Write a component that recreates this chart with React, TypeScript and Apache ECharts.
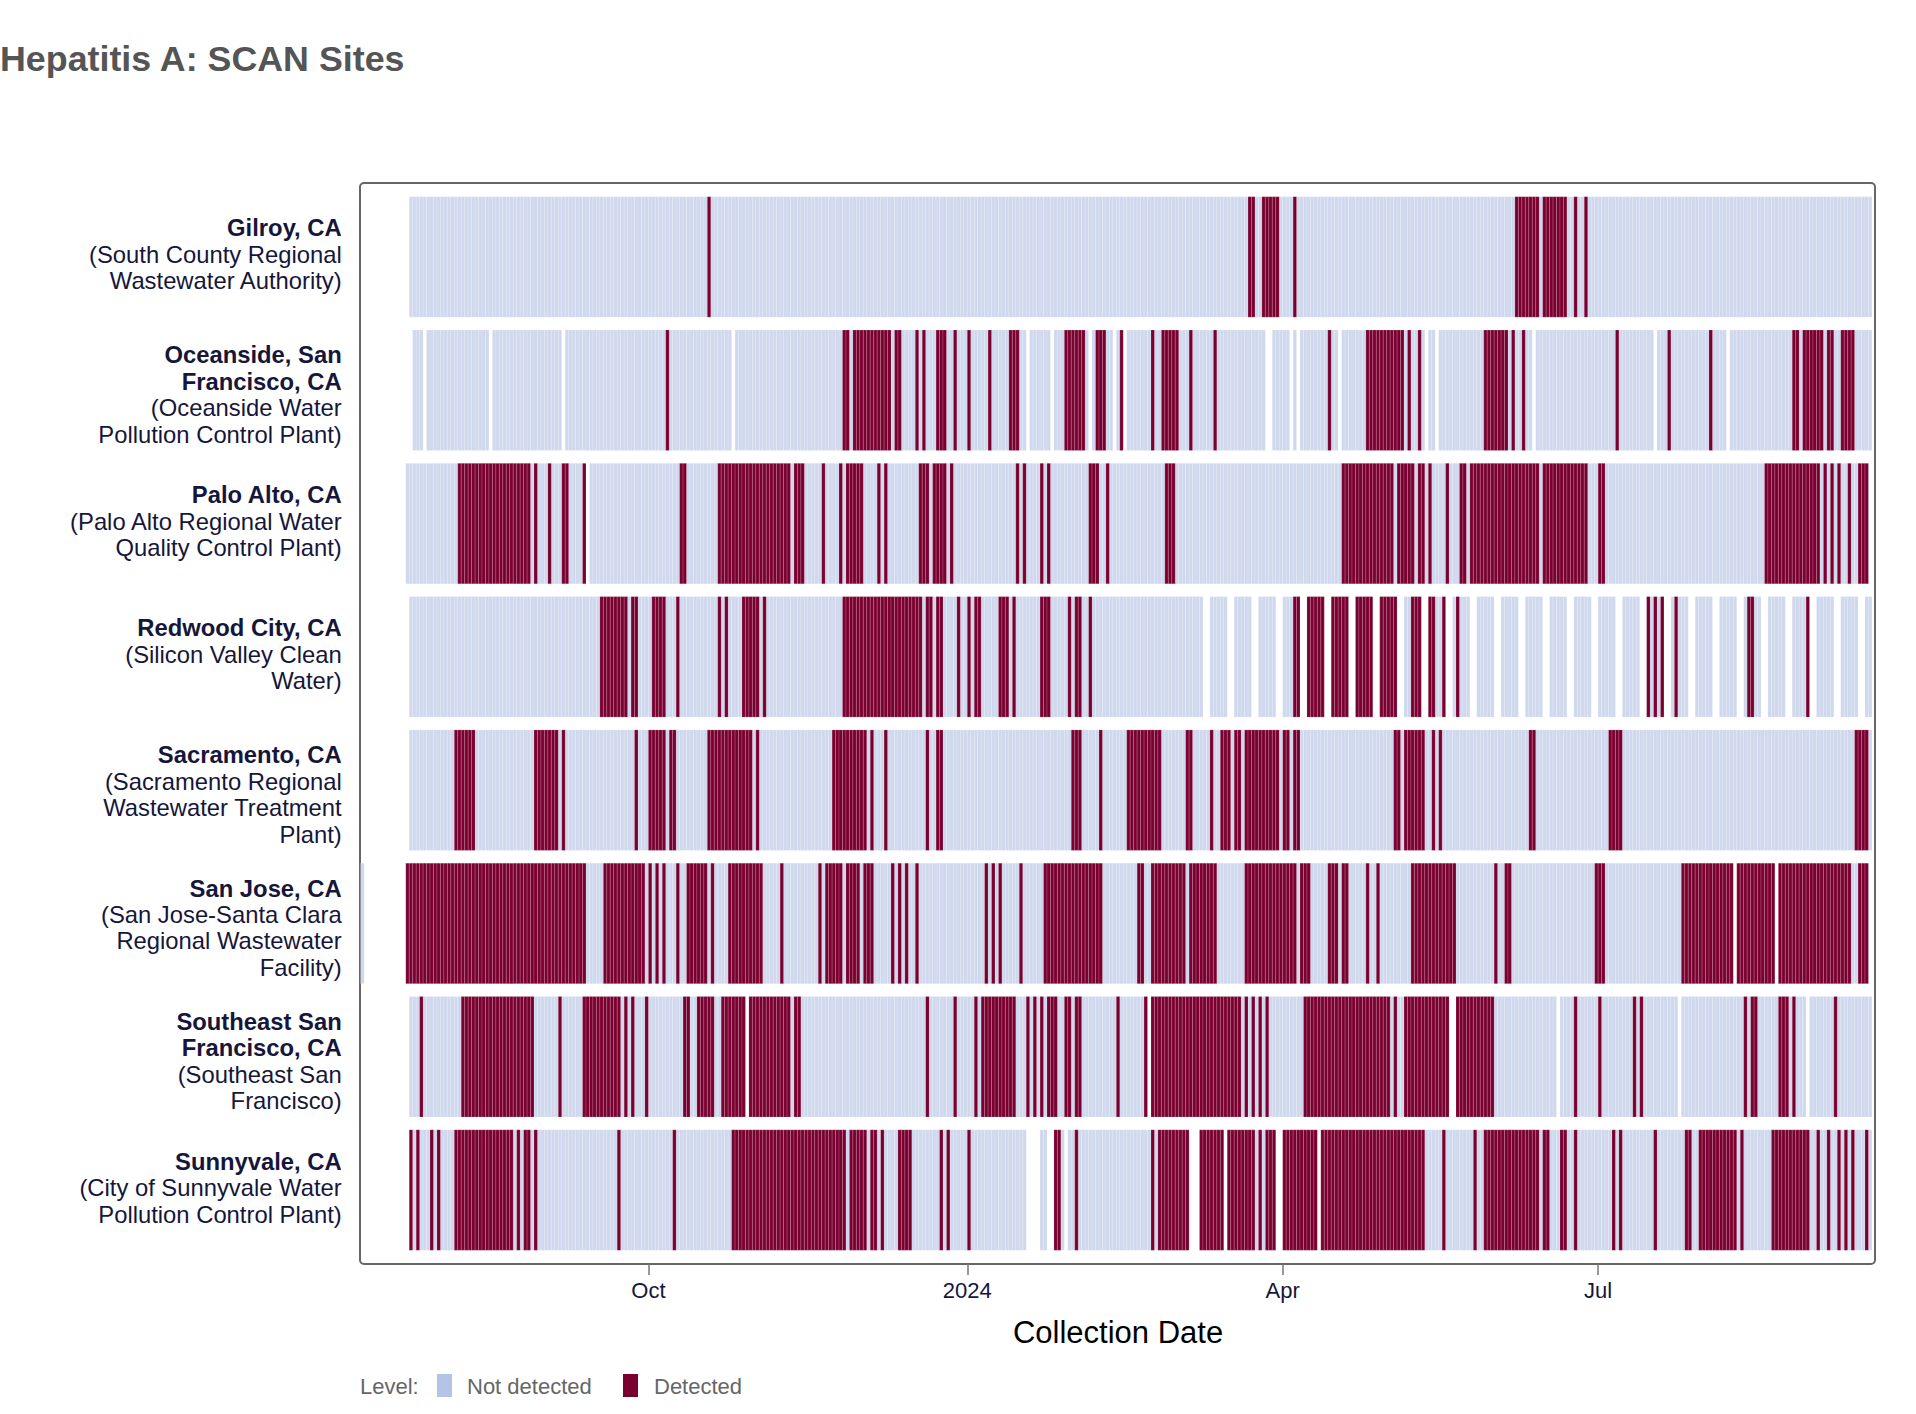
import React, { useEffect, useRef } from "react";
import * as echarts from "echarts";

// Day 0 of every range below is this date; ranges are inclusive [firstDay, lastDay].
const START_DATE = "2023-10-01";

const SITE_NAMES = [
  ["Gilroy, CA"],
  ["Oceanside, San", "Francisco, CA"],
  ["Palo Alto, CA"],
  ["Redwood City, CA"],
  ["Sacramento, CA"],
  ["San Jose, CA"],
  ["Southeast San", "Francisco, CA"],
  ["Sunnyvale, CA"],
];
const SITE_FACILITIES = [
  ["(South County Regional", "Wastewater Authority)"],
  ["(Oceanside Water", "Pollution Control Plant)"],
  ["(Palo Alto Regional Water", "Quality Control Plant)"],
  ["(Silicon Valley Clean", "Water)"],
  ["(Sacramento Regional", "Wastewater Treatment", "Plant)"],
  ["(San Jose-Santa Clara", "Regional Wastewater", "Facility)"],
  ["(Southeast San", "Francisco)"],
  ["(City of Sunnyvale Water", "Pollution Control Plant)"],
];

const GILROY_SAMPLED = [[-69, 352]];
const GILROY_DETECTED = [[17, 17], [173, 174], [177, 181], [186, 186], [250, 256], [258, 264], [267, 267], [270, 270]];

const OCEANSIDE_SAMPLED = [[-68, -66], [-64, -47], [-45, -26], [-24, 23], [25, 108], [110, 115], [117, 126], [128, 133], [135, 136], [138, 177], [180, 184], [186, 186], [188, 198], [200, 223], [225, 226], [228, 254], [256, 289], [291, 310], [312, 352]];
const OCEANSIDE_DETECTED = [[5, 5], [56, 57], [59, 69], [71, 72], [77, 77], [79, 79], [83, 85], [88, 88], [92, 92], [98, 98], [104, 106], [120, 125], [129, 131], [136, 136], [145, 145], [148, 152], [156, 156], [163, 163], [196, 196], [207, 217], [219, 219], [222, 222], [241, 247], [249, 249], [252, 252], [279, 279], [294, 294], [306, 306], [330, 331], [333, 338], [340, 341], [344, 347]];

const PALO_ALTO_SAMPLED = [[-70, -19], [-17, 351]];
const PALO_ALTO_DETECTED = [[-55, -35], [-33, -33], [-29, -29], [-25, -24], [-19, -19], [9, 10], [20, 40], [42, 44], [50, 50], [55, 55], [57, 61], [66, 66], [68, 68], [78, 80], [82, 85], [87, 87], [106, 106], [108, 108], [113, 113], [115, 115], [127, 129], [132, 132], [149, 151], [200, 214], [216, 220], [222, 223], [225, 225], [230, 230], [234, 235], [237, 256], [258, 270], [274, 275], [322, 337], [339, 339], [341, 341], [343, 343], [346, 346], [349, 351]];

const REDWOOD_SAMPLED = [[-69, 159], [162, 166], [169, 173], [176, 180], [183, 187], [190, 194], [197, 201], [204, 208], [211, 215], [218, 222], [225, 229], [232, 236], [239, 243], [246, 250], [253, 257], [260, 264], [267, 271], [274, 278], [281, 285], [288, 292], [295, 299], [302, 306], [309, 313], [316, 320], [323, 327], [330, 334], [337, 341], [344, 348], [351, 352]];
const REDWOOD_DETECTED = [[-14, -7], [-5, -4], [1, 4], [8, 8], [20, 20], [22, 22], [27, 31], [33, 33], [56, 78], [80, 81], [83, 84], [89, 89], [92, 92], [94, 95], [101, 103], [105, 105], [113, 115], [121, 121], [123, 124], [127, 127], [186, 187], [190, 194], [197, 201], [204, 208], [211, 215], [220, 222], [225, 226], [229, 229], [233, 233], [288, 288], [290, 290], [292, 292], [296, 296], [317, 318], [334, 334]];

const SACRAMENTO_SAMPLED = [[-69, 352]];
const SACRAMENTO_DETECTED = [[-56, -51], [-33, -27], [-25, -25], [-4, -4], [0, 4], [6, 7], [17, 29], [31, 31], [53, 62], [64, 64], [68, 68], [80, 80], [83, 84], [122, 124], [130, 130], [138, 147], [155, 156], [162, 162], [165, 167], [169, 170], [172, 181], [183, 184], [186, 187], [215, 216], [218, 223], [226, 226], [228, 228], [254, 255], [277, 280], [348, 351]];

const SAN_JOSE_SAMPLED = [[-83, -83], [-70, 312], [314, 324], [326, 351]];
const SAN_JOSE_DETECTED = [[-70, -19], [-13, -2], [0, 0], [2, 2], [4, 4], [8, 8], [11, 16], [18, 18], [23, 32], [38, 38], [49, 49], [51, 55], [57, 60], [62, 64], [70, 70], [72, 72], [74, 74], [77, 77], [97, 97], [99, 99], [101, 101], [107, 107], [114, 130], [141, 142], [145, 154], [156, 163], [172, 186], [188, 190], [196, 198], [200, 201], [207, 207], [210, 210], [220, 232], [244, 244], [247, 248], [273, 275], [298, 312], [314, 324], [326, 346], [349, 351]];

const SOUTHEAST_SAMPLED = [[-69, 27], [29, 143], [145, 230], [233, 261], [263, 296], [298, 333], [335, 352]];
const SOUTHEAST_DETECTED = [[-66, -66], [-54, -34], [-26, -26], [-19, -9], [-7, -7], [-5, -5], [-1, -1], [10, 11], [14, 18], [21, 27], [29, 40], [42, 43], [80, 80], [88, 88], [94, 94], [96, 105], [109, 109], [111, 111], [113, 113], [115, 117], [120, 121], [123, 124], [135, 135], [143, 143], [145, 170], [172, 172], [174, 174], [176, 176], [178, 178], [189, 213], [215, 215], [218, 230], [233, 243], [267, 267], [274, 274], [284, 284], [286, 286], [316, 316], [318, 319], [326, 328], [330, 330], [342, 342]];

const SUNNYVALE_SAMPLED = [[-69, 108], [113, 114], [117, 119], [121, 155], [159, 165], [167, 180], [183, 192], [194, 352]];
const SUNNYVALE_DETECTED = [[-69, -69], [-67, -67], [-63, -63], [-61, -61], [-56, -40], [-38, -38], [-36, -35], [-33, -33], [-9, -9], [7, 7], [24, 56], [58, 62], [64, 65], [67, 67], [72, 75], [84, 84], [86, 86], [92, 92], [117, 118], [123, 123], [145, 145], [147, 155], [159, 165], [167, 174], [176, 176], [178, 180], [183, 192], [194, 223], [229, 229], [238, 238], [241, 256], [258, 259], [263, 264], [267, 267], [278, 278], [280, 280], [290, 290], [299, 300], [303, 313], [315, 315], [324, 334], [337, 337], [340, 340], [343, 343], [345, 345], [347, 347], [351, 351]];

const SAMPLED = [GILROY_SAMPLED, OCEANSIDE_SAMPLED, PALO_ALTO_SAMPLED, REDWOOD_SAMPLED, SACRAMENTO_SAMPLED, SAN_JOSE_SAMPLED, SOUTHEAST_SAMPLED, SUNNYVALE_SAMPLED];
const DETECTED = [GILROY_DETECTED, OCEANSIDE_DETECTED, PALO_ALTO_DETECTED, REDWOOD_DETECTED, SACRAMENTO_DETECTED, SAN_JOSE_DETECTED, SOUTHEAST_DETECTED, SUNNYVALE_DETECTED];

const AXIS_MIN_DAY = -83;
const AXIS_MAX_DAY = 354;
const TICK_DATES = ["2023-10-01", "2024-01-01", "2024-04-01", "2024-07-01"];
const TICK_LABELS = ["Oct", "2024", "Apr", "Jul"];
const LEVELS = ["Not detected", "Detected"];

const DAY_MS = 86400000;
const BASE_MS = Date.parse(START_DATE + "T00:00:00Z");
const toMs = (d: number) => BASE_MS + d * DAY_MS;
const dateMs = (s: string) => Date.parse(s + "T00:00:00Z");

const COLOR_ND = "#cfd8ed";
const COLOR_D = "#7a0030";
const LEGEND_ND = "#b4c4e6";
const TEXT_DARK = "#16163a";
const FONT = "'Liberation Sans', Arial, Helvetica, sans-serif";
const BAR_FRACTION = 0.904;

function buildTiles() {
  const notDetected: number[][] = [];
  const detected: number[][] = [];
  SAMPLED.forEach((ranges, site) => {
    const det = DETECTED[site];
    ranges.forEach(([a, b]) => {
      for (let d = a; d <= b; d++) {
        const isDet = det.some(([s, e]) => d >= s && d <= e);
        (isDet ? detected : notDetected).push([toMs(d), site]);
      }
    });
  });
  return { notDetected, detected };
}

function siteLabel(i: number) {
  const bold = SITE_NAMES[i].map((t) => `{b|${t}}`);
  const norm = SITE_FACILITIES[i].map((t) => `{n|${t}}`);
  const lines = [...bold, ...norm];
  // vertical nudge like the reference: 4-line labels sit a bit lower, 3-line a bit higher
  if (lines.length >= 4) return ["{t| }", ...lines].join("\n");
  return [...lines, "{u| }"].join("\n");
}

function makeRender(color: string) {
  return (params: any, api: any) => {
    const t = api.value(0);
    const s = api.value(1);
    const p0 = api.coord([t, s]);
    const p1 = api.coord([t + DAY_MS, s]);
    const h = api.size([0, 1])[1] * BAR_FRACTION;
    return {
      type: "rect",
      shape: { x: p0[0], y: p0[1] - h / 2, width: p1[0] - p0[0], height: h },
      style: { fill: color, stroke: "rgba(255,255,255,0.3)", lineWidth: 0.5 },
    };
  };
}

export default function App() {
  const ref = useRef<HTMLDivElement>(null);
  useEffect(() => {
    if (!ref.current) return;
    const chart = echarts.init(ref.current, null, { renderer: "svg" });
    const { notDetected, detected } = buildTiles();
    const tickMs = TICK_DATES.map(dateMs);
    const option: any = {
      animation: false,
      backgroundColor: "#ffffff",
      textStyle: { fontFamily: FONT },
      grid: { left: 360.7, right: 40.6, top: 190.3, bottom: 157.3, containLabel: false },
      xAxis: {
        type: "value",
        min: toMs(AXIS_MIN_DAY),
        max: toMs(AXIS_MAX_DAY),
        offset: 7.3,
        axisLine: { show: false },
        axisTick: { show: true, length: 11, customValues: tickMs, lineStyle: { color: "#777", width: 1.5 } },
        axisLabel: {
          customValues: tickMs,
          margin: 15,
          fontSize: 22,
          color: TEXT_DARK,
          fontFamily: FONT,
          formatter: (v: number) => {
            const idx = tickMs.findIndex((m) => Math.abs(m - v) < DAY_MS / 2);
            return idx >= 0 ? TICK_LABELS[idx] : "";
          },
        },
        splitLine: { show: false },
        name: "Collection Date",
        nameLocation: "middle",
        nameGap: 53,
        nameTextStyle: { fontSize: 31, color: "#000", fontFamily: FONT },
      },
      yAxis: {
        type: "category",
        inverse: true,
        data: SITE_NAMES.map((_, i) => String(i)),
        axisLine: { show: false },
        axisTick: { show: false },
        splitLine: { show: false },
        axisLabel: {
          interval: 0,
          margin: 19,
          align: "right",
          formatter: (_v: string, i: number) => siteLabel(i),
          rich: {
            b: { fontSize: 23.8, fontWeight: "bold", lineHeight: 26.5, color: TEXT_DARK, align: "right", fontFamily: FONT },
            n: { fontSize: 23.8, lineHeight: 26.5, color: TEXT_DARK, align: "right", fontFamily: FONT },
            t: { fontSize: 4, lineHeight: 8.6, align: "right" },
            u: { fontSize: 4, lineHeight: 5, align: "right" },
          },
        },
      },
      series: [
        {
          name: LEVELS[0],
          type: "custom",
          renderItem: makeRender(COLOR_ND),
          encode: { x: 0, y: 1 },
          data: notDetected,
        },
        {
          name: LEVELS[1],
          type: "custom",
          renderItem: makeRender(COLOR_D),
          encode: { x: 0, y: 1 },
          data: detected,
        },
      ],
      graphic: [
        {
          type: "text",
          left: 0,
          top: 41,
          style: { text: "Hepatitis A: SCAN Sites", fontSize: 35.8, fontWeight: "bold", fill: "#555", fontFamily: FONT },
        },
        {
          type: "rect",
          shape: { x: 360, y: 183, width: 1515, height: 1081, r: 4 },
          style: { fill: "none", stroke: "#666", lineWidth: 2 },
          silent: true,
        },
        {
          type: "text",
          x: 360,
          y: 1386.5,
          style: { text: "Level:", fontSize: 22, fill: "#666", fontFamily: FONT, verticalAlign: "middle" },
        },
        { type: "rect", shape: { x: 437, y: 1374, width: 15, height: 23 }, style: { fill: LEGEND_ND } },
        {
          type: "text",
          x: 467,
          y: 1386.5,
          style: { text: LEVELS[0], fontSize: 22, fill: "#666", fontFamily: FONT, verticalAlign: "middle" },
        },
        { type: "rect", shape: { x: 623, y: 1374, width: 15, height: 23 }, style: { fill: COLOR_D } },
        {
          type: "text",
          x: 654,
          y: 1386.5,
          style: { text: LEVELS[1], fontSize: 22, fill: "#666", fontFamily: FONT, verticalAlign: "middle" },
        },
      ],
    };
    chart.setOption(option);
    return () => chart.dispose();
  }, []);
  return (
    <div
      ref={ref}
      style={{ position: "absolute", left: 0, top: 0, width: 1916, height: 1414, background: "#fff" }}
    />
  );
}
